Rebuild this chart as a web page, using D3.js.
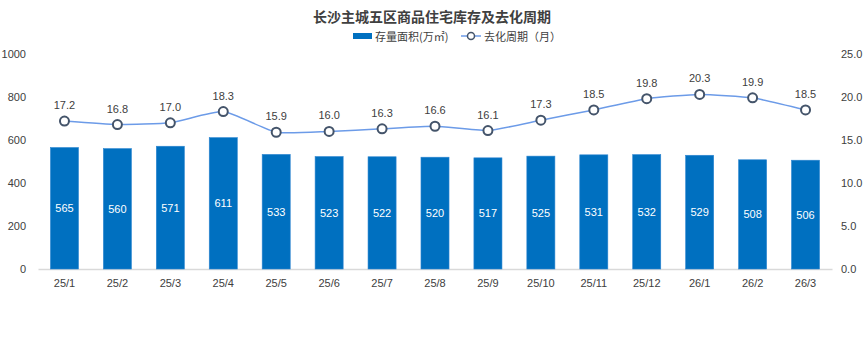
<!DOCTYPE html>
<html><head><meta charset="utf-8">
<script src="https://cdn.jsdelivr.net/npm/d3@7"></script>
<style>body{margin:0;background:#fff;}svg{display:block;font-family:"Microsoft YaHei","Noto Sans CJK SC",sans-serif;}</style>
</head><body><svg id="c" width="865" height="338"></svg>
<script>
const categories = ["25/1","25/2","25/3","25/4","25/5","25/6","25/7","25/8","25/9","25/10","25/11","25/12","26/1","26/2","26/3"];
const stock = [565,560,571,611,533,523,522,520,517,525,531,532,529,508,506];
const cycle = [17.2,16.8,17.0,18.3,15.9,16.0,16.3,16.6,16.1,17.3,18.5,19.8,20.3,19.9,18.5];
const leftTicks = [0,200,400,600,800,1000];
const rightTicks = [0,5,10,15,20,25];

const svg = d3.select("#c");
const x = d3.scaleBand().domain(categories).range([38,832]).paddingInner(0.47).paddingOuter(0.235);
const yL = d3.scaleLinear().domain([0,1000]).range([269,54]);
const yR = d3.scaleLinear().domain([0,25]).range([269,54]);

svg.append("text").attr("x",432).attr("y",22).attr("text-anchor","middle")
  .attr("font-size",14).attr("font-weight","bold").attr("fill","#404040").text("长沙主城五区商品住宅库存及去化周期");

// legend
const lg = svg.append("g").attr("font-size",11).attr("fill","#404040");
lg.append("rect").attr("x",353).attr("y",33).attr("width",19).attr("height",6).attr("fill","#0070C0");
lg.append("text").attr("x",375).attr("y",40.5).attr("fill","#404040").text("存量面积(万㎡)");
lg.append("line").attr("x1",461).attr("x2",481).attr("y1",36).attr("y2",36).attr("stroke","#6C9BE8").attr("stroke-width",1.5);
lg.append("circle").attr("cx",471).attr("cy",36).attr("r",3.5).attr("fill","#fff").attr("stroke","#44546A").attr("stroke-width",1.5);
lg.append("text").attr("x",484).attr("y",40.5).attr("fill","#404040").text("去化周期（月）");

// axes
const axL = svg.append("g").attr("transform","translate(26,0)")
  .call(d3.axisLeft(yL).tickValues(leftTicks).tickSize(0).tickPadding(0).tickFormat(d3.format("d")));
axL.select(".domain").remove();
axL.selectAll("text").attr("font-size",11).attr("fill","#404040").attr("font-family","Segoe UI, Liberation Sans, sans-serif");

const axR = svg.append("g").attr("transform","translate(841,0)")
  .call(d3.axisRight(yR).tickValues(rightTicks).tickSize(0).tickPadding(0).tickFormat(d3.format(".1f")));
axR.select(".domain").remove();
axR.selectAll("text").attr("font-size",11).attr("fill","#404040").attr("font-family","Segoe UI, Liberation Sans, sans-serif");

const axB = svg.append("g").attr("transform","translate(0,269)")
  .call(d3.axisBottom(x).tickSize(0).tickPadding(10));
axB.select(".domain").attr("stroke","#d9d9d9").attr("stroke-width",1.5);
axB.selectAll("text").attr("font-size",11).attr("fill","#404040").attr("font-family","Segoe UI, Liberation Sans, sans-serif");

// bars
svg.append("g").selectAll("rect").data(stock).join("rect")
  .attr("x",(d,i)=>x(categories[i])).attr("width",x.bandwidth())
  .attr("y",d=>yL(d)).attr("height",d=>yL(0)-yL(d)).attr("fill","#0070C0")
  .attr("stroke","#2E86D1").attr("stroke-width",0.6);
svg.append("g").selectAll("text").data(stock).join("text")
  .attr("x",(d,i)=>x(categories[i])+x.bandwidth()/2).attr("y",d=>(yL(d)+yL(0))/2+4)
  .attr("text-anchor","middle").attr("font-size",11).attr("fill","#fff")
  .attr("font-family","Segoe UI, Liberation Sans, sans-serif").text(d=>d);

// line
const line = d3.line().x((d,i)=>x(categories[i])+x.bandwidth()/2).y(d=>yR(d)).curve(d3.curveCardinal.tension(0.5));
svg.append("path").datum(cycle).attr("d",line).attr("fill","none").attr("stroke","#6C9BE8").attr("stroke-width",1.5);
svg.append("g").selectAll("circle").data(cycle).join("circle")
  .attr("cx",(d,i)=>x(categories[i])+x.bandwidth()/2).attr("cy",d=>yR(d)).attr("r",4.5)
  .attr("fill","#fff").attr("stroke","#44546A").attr("stroke-width",2);
svg.append("g").selectAll("text").data(cycle).join("text")
  .attr("x",(d,i)=>x(categories[i])+x.bandwidth()/2).attr("y",d=>yR(d)-12)
  .attr("text-anchor","middle").attr("font-size",11).attr("fill","#404040")
  .attr("font-family","Segoe UI, Liberation Sans, sans-serif").text(d=>d.toFixed(1));
</script></body></html>
